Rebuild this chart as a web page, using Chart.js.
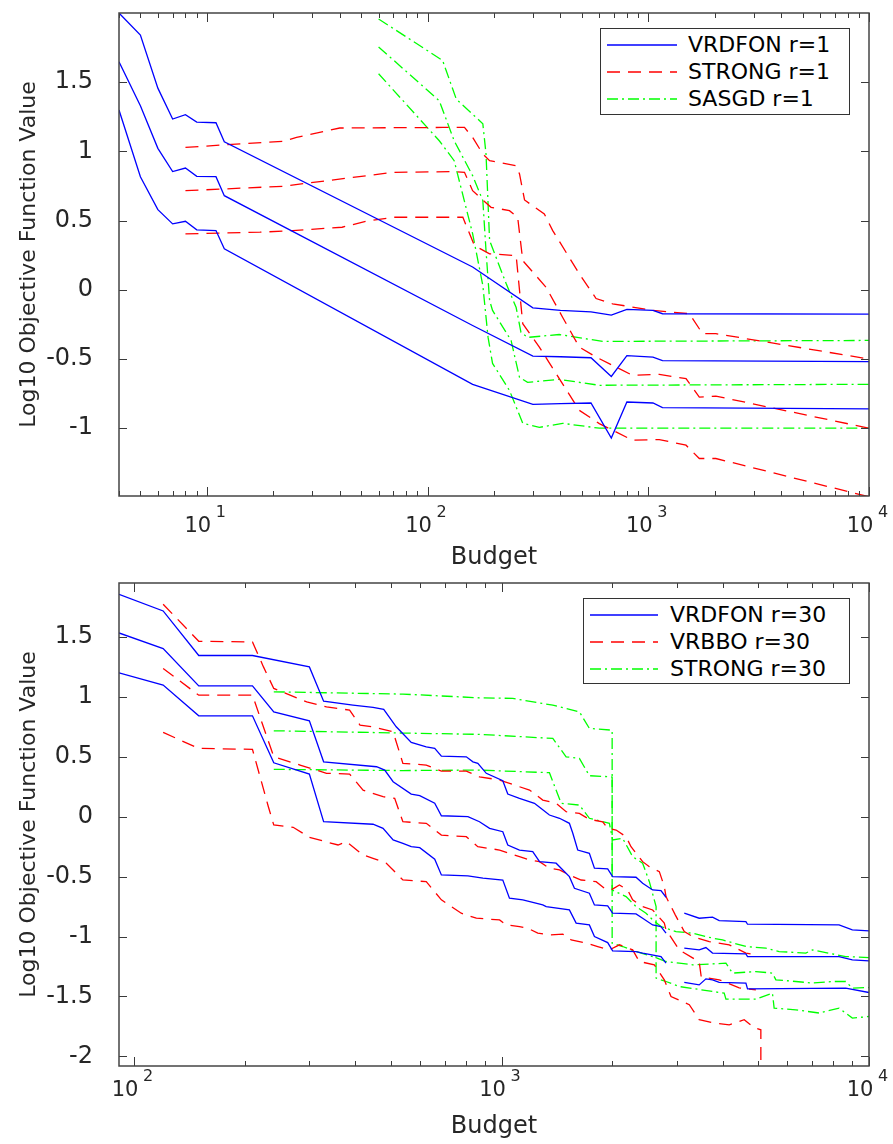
<!DOCTYPE html>
<html>
<head>
<meta charset="utf-8">
<script src="https://cdn.jsdelivr.net/npm/chart.js@4.4.1/dist/chart.umd.min.js"></script>
<style>
body{margin:0;background:#fff;font-family:"DejaVu Sans",sans-serif}
.panel{position:relative;width:893px}
#p1{height:575px}
#p2{height:569px}
.lg{position:absolute;box-sizing:border-box;border:1.5px solid #333;background:#fff;padding-top:2px}
.lg div{display:flex;align-items:center;height:27px;font-size:22px;color:#000;white-space:nowrap}
.lg svg{flex:none}
</style>
</head>
<body>
<div class="panel" id="p1">
  <canvas id="c1"></canvas>
  <div class="lg" style="left:600px;top:28px;width:250px;height:87px">
    <div><svg width="76" height="10" style="margin-left:6px;margin-right:5px"><line x1="0" y1="5" x2="70" y2="5" stroke="#0000ff" stroke-width="1.3"/></svg>VRDFON r=1</div>
    <div><svg width="76" height="10" style="margin-left:6px;margin-right:5px"><line x1="0" y1="5" x2="70" y2="5" stroke="#ff0000" stroke-width="1.3" stroke-dasharray="13,8"/></svg>STRONG r=1</div>
    <div><svg width="76" height="10" style="margin-left:6px;margin-right:5px"><line x1="0" y1="5" x2="70" y2="5" stroke="#00ff00" stroke-width="1.3" stroke-dasharray="11,4,2,4"/></svg>SASGD r=1</div>
  </div>
</div>
<div class="panel" id="p2">
  <canvas id="c2"></canvas>
  <div class="lg" style="left:583px;top:23px;width:267px;height:86px">
    <div><svg width="74" height="10" style="margin-left:6px;margin-right:6px"><line x1="0" y1="5" x2="68" y2="5" stroke="#0000ff" stroke-width="1.3"/></svg>VRDFON r=30</div>
    <div><svg width="74" height="10" style="margin-left:6px;margin-right:6px"><line x1="0" y1="5" x2="68" y2="5" stroke="#ff0000" stroke-width="1.3" stroke-dasharray="13,8"/></svg>VRBBO r=30</div>
    <div><svg width="74" height="10" style="margin-left:6px;margin-right:6px"><line x1="0" y1="5" x2="68" y2="5" stroke="#00ff00" stroke-width="1.3" stroke-dasharray="11,4,2,4"/></svg>STRONG r=30</div>
  </div>
</div>
<script>
// ---- top panel (r=1) ----
const T_VRDFON_X=[4,5,6,7,8,9,11,12,160,300,400,550,680,800,1050,1160,10000]
const T_VRDFON_HI=[2.0,1.84,1.457,1.234,1.265,1.212,1.207,1.07,0.165,-0.13,-0.149,-0.159,-0.183,-0.142,-0.149,-0.173,-0.176]
const T_VRDFON_MID=[1.647,1.33,1.022,0.854,0.88,0.82,0.817,0.68,-0.258,-0.479,-0.484,-0.491,-0.626,-0.476,-0.486,-0.512,-0.519]
const T_VRDFON_LO=[1.299,0.817,0.579,0.476,0.495,0.433,0.428,0.296,-0.683,-0.828,-0.822,-0.818,-1.071,-0.811,-0.818,-0.851,-0.861]

const T_STRONG_HI_X=[8,12.3,22,25.5,40,117,147,160,178,191,252,261,275,338,369,487,580,689,1045,1535,1762,2024,10000]
const T_STRONG_HI=[1.029,1.048,1.072,1.101,1.169,1.173,1.173,1.101,0.981,0.933,0.897,0.837,0.649,0.548,0.428,0.115,-0.063,-0.101,-0.149,-0.173,-0.317,-0.317,-0.5]
const T_STRONG_MID_X=[8,22,70,130,147,160,178,194,235,256,270,344,409,487,580,849,1122,1483,1703,2024,10000]
const T_STRONG_MID=[0.716,0.748,0.849,0.854,0.849,0.716,0.649,0.596,0.572,0.524,0.211,0.019,-0.198,-0.414,-0.486,-0.618,-0.611,-0.642,-0.775,-0.768,-1.0]
const T_STRONG_LO_X=[8,17.4,24.5,41,52.8,69.7,144.5,163,191,252,270,321,487,600,849,1122,1483,1703,2024,10000]
const T_STRONG_LO=[0.404,0.416,0.428,0.452,0.495,0.524,0.524,0.32,0.26,0.247,-0.245,-0.414,-0.871,-0.967,-1.087,-1.082,-1.123,-1.219,-1.219,-1.496]

const T_SASGD_HI_X=[60,117,135,178,184,191,227,252,265,284,395,621,10000]
const T_SASGD_HI=[1.957,1.657,1.377,1.2,0.983,0.356,0.045,-0.128,-0.308,-0.344,-0.323,-0.373,-0.366]
const T_SASGD_MID_X=[60,113,132,160,178,184,191,197,239,261,284,395,600,10000]
const T_SASGD_MID=[1.755,1.366,1.077,0.825,0.645,0.284,-0.077,-0.149,-0.366,-0.633,-0.669,-0.647,-0.69,-0.683]
const T_SASGD_LO_X=[60,113,132,160,178,188,197,235,270,321,409,600,10000]
const T_SASGD_LO=[1.561,1.077,0.933,0.406,0.031,-0.344,-0.532,-0.727,-0.965,-0.994,-0.965,-1.0,-1.0]

// ---- bottom panel (r=30) ----
const B_VRDFON_HI_X=[91,120,150,210,300,328,394,447,478,517,568,624,658,686,802,836,862,909,1008,1040,1119,1229,1269,1350,1438,1530,1563,1612,1734,1790,1945,2006,2323,2421,2578,2716,2803,2950,3143,3451,3751,3912,4624,4671,8287,9009,10000]
const B_VRDFON_HI=[1.856,1.717,1.345,1.345,1.25,0.964,0.931,0.912,0.895,0.75,0.62,0.583,0.57,0.506,0.5,0.458,0.445,0.362,0.3,0.189,0.153,0.112,0.078,0.014,-0.013,-0.055,-0.138,-0.278,-0.305,-0.43,-0.436,-0.5,-0.505,-0.555,-0.611,-0.617,-0.672,null,-0.805,-0.847,-0.838,-0.867,-0.875,-0.897,-0.903,-0.944,-0.953]
const B_VRDFON_MID_X=[91,120,150,210,240,300,328,457,481,507,568,599,658,686,810,871,928,1008,1040,1119,1216,1269,1408,1530,1579,1734,1790,1945,2006,2323,2421,2578,2716,2803,2950,3143,3451,3599,3751,4624,4671,8287,9009,10000]
const B_VRDFON_MID=[1.533,1.403,1.092,1.092,0.875,0.8,0.458,0.417,0.389,0.292,0.189,0.175,0.112,0.008,0,-0.042,-0.097,-0.125,-0.236,-0.278,-0.292,-0.375,-0.388,-0.5,-0.597,-0.638,-0.736,-0.744,-0.805,-0.811,-0.847,-0.903,-0.917,-0.972,null,-1.097,-1.111,-1.092,-1.138,-1.144,-1.167,-1.167,-1.194,-1.203]
const B_VRDFON_LO_X=[91,120,150,210,240,300,328,447,476,507,539,568,599,658,686,810,890,1008,1051,1143,1295,1323,1530,1596,1734,1790,1945,2006,2323,2421,2716,2803,2950,3143,3451,3599,3751,3912,4624,4671,8642,10000]
const B_VRDFON_LO=[1.2,1.098,0.842,0.842,0.45,0.356,-0.042,-0.063,-0.097,-0.194,-0.222,-0.25,-0.258,-0.355,-0.486,-0.494,-0.513,-0.528,-0.68,-0.694,-0.736,-0.75,-0.778,-0.888,-0.903,-1.0,-1.05,-1.119,-1.125,-1.138,-1.167,-1.222,null,-1.383,-1.403,-1.353,-1.361,-1.383,-1.388,-1.436,-1.43,-1.467]

const B_VRBBO_HI_X=[120,150,210,225,240,295,334,386,412,447,507,539,624,686,802,871,988,1119,1192,1295,1408,1499,1629,1734,1885,1945,2050,2182,2251,2421,2525,2688,2773,2803,2970,3143,3311,3675,4165,4624,4923]
const B_VRBBO_HI=[1.773,1.464,1.458,1.25,1.07,0.958,0.917,0.889,0.764,0.75,0.708,0.445,0.431,0.381,0.381,0.333,0.306,0.25,0.222,0.139,0.112,0.042,0.028,-0.022,-0.042,-0.097,-0.111,-0.167,-0.25,-0.375,-0.417,-0.458,-0.583,-0.667,-0.819,-0.958,-1.0,-1.042,-1.069,-1.138,-1.152]
const B_VRBBO_MID_X=[120,150,210,240,283,334,386,420,476,512,539,624,686,802,862,988,1119,1192,1269,1350,1438,1530,1647,1809,1905,1987,2093,2204,2274,2421,2578,2773,2803,3046,3311,3451,3495,3912,4434,4923]
const B_VRBBO_MID=[1.237,1.014,1.014,0.5,0.431,0.362,0.356,0.222,0.167,0.153,-0.042,-0.055,-0.153,-0.167,-0.25,-0.278,-0.333,-0.361,-0.375,-0.43,-0.444,-0.486,-0.528,-0.542,-0.597,-0.611,-0.569,-0.611,-0.694,-0.75,-0.778,-0.888,-0.944,-1.111,-1.178,-1.211,-1.336,-1.361,-1.428,-1.444]
const B_VRBBO_LO_X=[120,150,210,232,240,271,300,359,378,420,447,486,539,624,686,777,854,988,1030,1119,1179,1255,1350,1468,1547,1699,1827,1966,2093,2274,2371,2605,2773,2892,3243,3451,3751,4165,4575,4871,5078,5078]
const B_VRBBO_LO=[0.703,0.57,0.562,0.083,-0.069,-0.088,-0.172,-0.236,-0.208,-0.319,-0.347,-0.388,-0.528,-0.542,-0.694,-0.805,-0.847,-0.861,-0.903,-0.917,-0.93,-0.972,-0.986,-0.98,-1.028,-1.055,-1.083,-1.111,-1.069,-1.111,-1.208,-1.236,-1.361,-1.5,-1.569,-1.694,-1.719,-1.736,-1.694,-1.761,-1.778,-2.2]

const B_STRONG_HI_X=[240,539,871,1073,1379,1629,1734,2000,2000,2136,2323,2578,2803,3046,3311,4080,4252,4923,5461,5579,6322,7015,7948,8642,9009,10000]
const B_STRONG_HI=[1.042,1.023,0.992,0.987,0.931,0.875,0.737,0.722,-1.055,-1.083,-1.125,-1.167,-1.208,-1.222,-1.236,-1.222,-1.305,-1.292,-1.305,-1.361,-1.375,-1.388,-1.375,-1.375,-1.43,-1.425]
const B_STRONG_MID_X=[240,539,871,1379,1499,1629,1734,1987,2000,2000,2182,2323,2473,2578,2716,2984,3311,3751,3994,4624,5240,5695,6729,7015,8642,10000]
const B_STRONG_MID=[0.717,0.698,0.687,0.653,0.5,0.487,0.342,0.333,0.331,-0.611,-0.667,-0.75,-0.805,-0.861,-0.917,-0.958,-0.972,-1.013,-1.028,-1.083,-1.097,-1.125,-1.138,-1.111,-1.167,-1.175]
const B_STRONG_LO_X=[240,539,871,1350,1453,1629,1734,1966,2006,2136,2274,2421,2525,2634,2634,2803,3046,3751,4036,4080,4923,5461,5519,6322,7313,8287,9009,10000]
const B_STRONG_LO=[0.395,0.385,0.389,0.367,0.112,0.097,-0.013,-0.055,-0.194,-0.18,-0.333,-0.388,-0.542,-0.75,-1.347,-1.375,-1.417,-1.458,-1.472,-1.522,-1.522,-1.472,-1.597,-1.611,-1.638,-1.597,-1.68,-1.667]

// axes
const DECADES=[1,10,100,1000,10000]
const EXPONENT={10:'1',100:'2',1000:'3',10000:'4'}
const T_YTICKS=[-1,-0.5,0,0.5,1,1.5]
const B_YTICKS=[-2,-1.5,-1,-0.5,0,0.5,1,1.5]

const BLUE='#0000ff',RED='#ff0000',GREEN='#00ff00'
const tc='#262626'

const pts=(xs,ys)=>xs.map((x,i)=>({x,y:ys[i]}))
const ds=(xs,ys,color,kind)=>({
  data:pts(xs,ys),borderColor:color,borderWidth:1.3,pointRadius:0,tension:0,spanGaps:false,fill:false,
  borderDash:kind==='dash'?[13,8]:kind==='dashdot'?[11,4,2,4]:[]
})

function logTicks(min,max){
  const out=[]
  DECADES.forEach(d=>{for(let m=1;m<10;m++){const v=d*m;if(v>=min&&v<=max)out.push(v)}})
  return out
}

// box, inward ticks and the raised exponents of the 10^n labels
const frame={
  id:'frame',
  afterDatasetsDraw(chart){
    const {ctx,chartArea:a,scales:{x,y}}=chart
    ctx.save()
    ctx.strokeStyle='#3a3a3a'
    ctx.lineWidth=1
    x.ticks.forEach(t=>{
      const px=Math.round(x.getPixelForValue(t.value))+0.5
      const L=EXPONENT[t.value]?9:5
      ctx.beginPath()
      ctx.moveTo(px,a.bottom);ctx.lineTo(px,a.bottom-L)
      ctx.moveTo(px,a.top);ctx.lineTo(px,a.top+L)
      ctx.stroke()
    })
    y.ticks.forEach(t=>{
      const py=Math.round(y.getPixelForValue(t.value))+0.5
      ctx.beginPath()
      ctx.moveTo(a.left,py);ctx.lineTo(a.left+8,py)
      ctx.moveTo(a.right,py);ctx.lineTo(a.right-8,py)
      ctx.stroke()
    })
    ctx.lineWidth=1.5
    ctx.strokeStyle='#444'
    ctx.strokeRect(a.left,a.top,a.right-a.left,a.bottom-a.top)
    ctx.fillStyle=tc
    ctx.font='16px "DejaVu Sans"'
    ctx.textAlign='left'
    ctx.textBaseline='alphabetic'
    const base=a.bottom+x.options.ticks.padding+11
    x.ticks.forEach(t=>{
      if(EXPONENT[t.value]) ctx.fillText(EXPONENT[t.value],x.getPixelForValue(t.value)+9,base)
    })
    ctx.restore()
  }
}

function opts(xr,yr,yticks,padTop,xH,tickPad,titlePad){
  return {
    responsive:true,maintainAspectRatio:false,animation:false,
    layout:{padding:{top:padTop,right:24,left:0,bottom:0}},
    plugins:{legend:{display:false},tooltip:{enabled:false}},
    scales:{
      x:{type:'logarithmic',min:xr[0],max:xr[1],
        grid:{display:false},border:{display:false},
        afterBuildTicks:s=>{s.ticks=logTicks(xr[0],xr[1]).map(v=>({value:v}))},
        afterFit:s=>{s.height=xH;s.paddingLeft=0;s.paddingRight=0},
        ticks:{autoSkip:false,maxRotation:0,padding:tickPad,labelOffset:-9,color:tc,font:{family:'DejaVu Sans',size:21},callback:v=>EXPONENT[v]?'10':''},
        title:{display:true,text:'Budget',color:tc,font:{family:'DejaVu Sans',size:24},padding:{top:0,bottom:titlePad}}
      },
      y:{type:'linear',min:yr[0],max:yr[1],
        grid:{display:false},border:{display:false},
        afterBuildTicks:s=>{s.ticks=yticks.map(v=>({value:v}))},
        afterFit:s=>{s.width=119;s.paddingTop=0;s.paddingBottom=0},
        ticks:{padding:18,color:tc,font:{family:'DejaVu Sans',size:24},callback:v=>String(v)},
        title:{display:true,text:'Log10 Objective Function Value',color:tc,font:{family:'DejaVu Sans',size:22},padding:{top:16,bottom:0}}
      }
    }
  }
}

new Chart(document.getElementById('c1'),{type:'line',data:{datasets:[
  ds(T_VRDFON_X,T_VRDFON_HI,BLUE),
  ds(T_VRDFON_X,T_VRDFON_MID,BLUE),
  ds(T_VRDFON_X,T_VRDFON_LO,BLUE),
  ds(T_STRONG_HI_X,T_STRONG_HI,RED,'dash'),
  ds(T_STRONG_MID_X,T_STRONG_MID,RED,'dash'),
  ds(T_STRONG_LO_X,T_STRONG_LO,RED,'dash'),
  ds(T_SASGD_HI_X,T_SASGD_HI,GREEN,'dashdot'),
  ds(T_SASGD_MID_X,T_SASGD_MID,GREEN,'dashdot'),
  ds(T_SASGD_LO_X,T_SASGD_LO,GREEN,'dashdot'),
]},options:opts([4,10000],[-1.49,2],T_YTICKS,13,79,10,3),plugins:[frame]})

new Chart(document.getElementById('c2'),{type:'line',data:{datasets:[
  ds(B_VRDFON_HI_X,B_VRDFON_HI,BLUE),
  ds(B_VRDFON_MID_X,B_VRDFON_MID,BLUE),
  ds(B_VRDFON_LO_X,B_VRDFON_LO,BLUE),
  ds(B_VRBBO_HI_X,B_VRBBO_HI,RED,'dash'),
  ds(B_VRBBO_MID_X,B_VRBBO_MID,RED,'dash'),
  ds(B_VRBBO_LO_X,B_VRBBO_LO,RED,'dash'),
  ds(B_STRONG_HI_X,B_STRONG_HI,GREEN,'dashdot'),
  ds(B_STRONG_MID_X,B_STRONG_MID,GREEN,'dashdot'),
  ds(B_STRONG_LO_X,B_STRONG_LO,GREEN,'dashdot'),
]},options:opts([91,10000],[-2.08,1.95],B_YTICKS,8,78,4,3),plugins:[frame]})
</script>
</body>
</html>
